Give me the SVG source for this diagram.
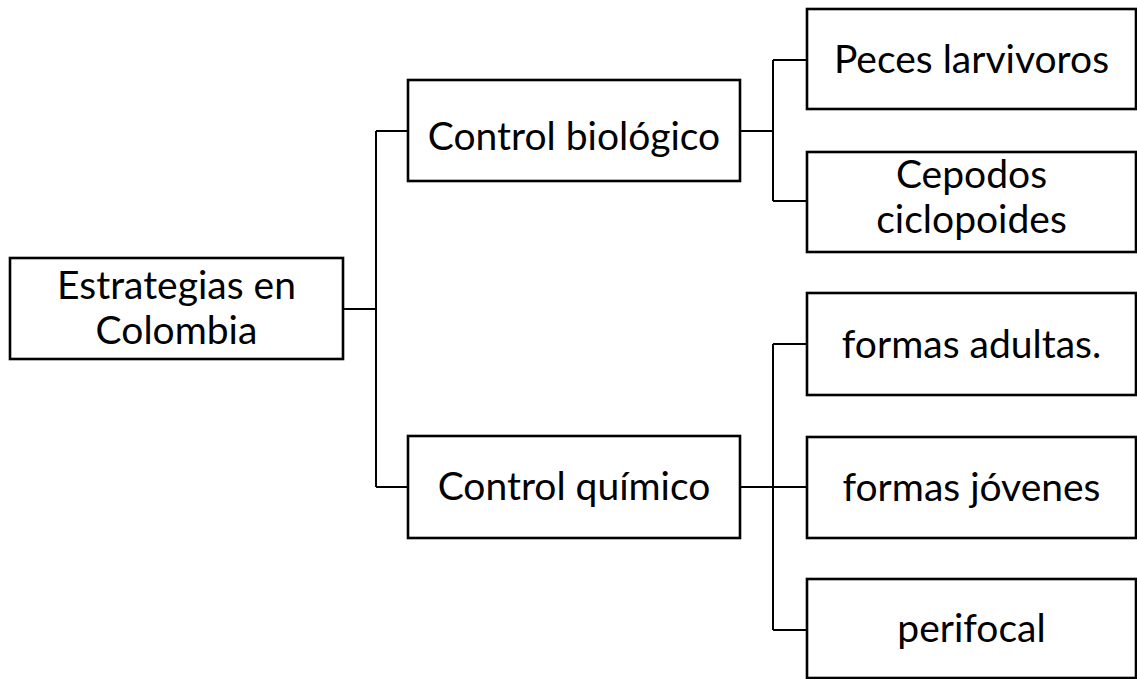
<svg xmlns="http://www.w3.org/2000/svg" width="1137" height="679" viewBox="0 0 1137 679">
<style>
.box{fill:#fff;stroke:#000;stroke-width:2.6}
.ln{fill:none;stroke:#000;stroke-width:2}
text{font-family:Lato,"Open Sans","Liberation Sans",sans-serif;font-size:39px;fill:#000;text-anchor:middle}
</style>
<rect width="1137" height="679" fill="#fff"/>
<g id="connectors">
<path class="ln" d="M343,309 H376 M376,131 V487 M376,131 H408 M376,487 H408"/>
<path class="ln" d="M740,131 H773 M773,60 V201 M773,60 H807 M773,201 H807"/>
<path class="ln" d="M740,487 H807 M773,344 V630 M773,344 H807 M773,630 H807"/>
</g>
<g id="n-root"><rect class="box" x="10" y="258" width="333" height="101"/><text x="176.5" y="299">Estrategias en</text><text x="176.5" y="344">Colombia</text></g>
<g id="n-bio"><rect class="box" x="408" y="80" width="332" height="101"/><text x="574" y="150">Control biológico</text></g>
<g id="n-quim"><rect class="box" x="408" y="436" width="332" height="102"/><text x="574" y="500">Control químico</text></g>
<g id="n-peces"><rect class="box" x="807" y="9" width="329" height="100"/><text x="971.5" y="73">Peces larvivoros</text></g>
<g id="n-cepodos"><rect class="box" x="807" y="152" width="329" height="100"/><text x="971.5" y="188">Cepodos</text><text x="971.5" y="233">ciclopoides</text></g>
<g id="n-adultas"><rect class="box" x="807" y="293" width="329" height="102"/><text x="971.5" y="358">formas adultas.</text></g>
<g id="n-jovenes"><rect class="box" x="807" y="437" width="329" height="101"/><text x="971.5" y="501">formas jóvenes</text></g>
<g id="n-perifocal"><rect class="box" x="807" y="579" width="329" height="99"/><text x="971.5" y="642">perifocal</text></g>
</svg>
